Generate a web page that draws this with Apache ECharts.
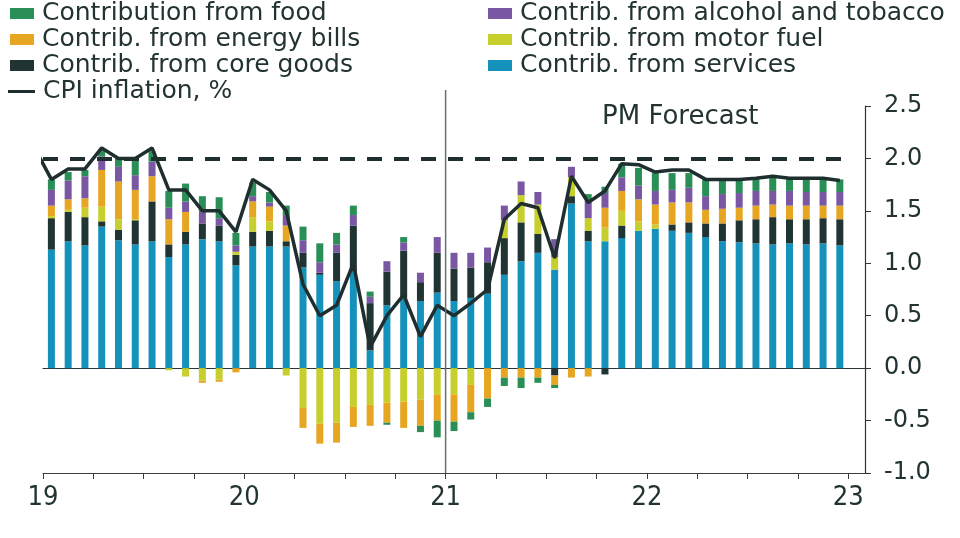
<!DOCTYPE html>
<html>
<head>
<meta charset="utf-8">
<script src="https://cdn.jsdelivr.net/npm/echarts@6/dist/echarts.min.js"></script>
<style>html,body{margin:0;padding:0;background:#fff}#c{width:960px;height:538px}</style>
</head>
<body>
<div id="c"></div>
<script>
// Months Jan 2019 .. Dec 2022 (48); one spare empty slot at the end of the axis
const months = [];
for (let y = 2019; y <= 2022; y++) for (let m = 1; m <= 12; m++) months.push(y + '-' + (m < 10 ? '0' + m : m));

const services = [
  1.13, 1.21, 1.17, 1.35, 1.22, 1.18, 1.21, 1.06, 1.18, 1.23, 1.21, 0.98,
  1.16, 1.16, 1.16, 0.96, 0.89, 0.83, 0.92, 0.17, 0.60, 0.67, 0.64, 0.72,
  0.64, 0.67, 0.71, 0.89, 1.02, 1.10, 0.94, 1.57, 1.21, 1.21, 1.24, 1.31,
  1.33, 1.31, 1.29, 1.25, 1.21, 1.20, 1.19, 1.18, 1.19, 1.18, 1.19, 1.17
];
const coreGoods = [
  0.30, 0.28, 0.27, 0.05, 0.10, 0.23, 0.38, 0.12, 0.12, 0.15, 0.15, 0.10,
  0.14, 0.15, 0.05, 0.14, 0.02, 0.27, 0.44, 0.45, 0.32, 0.45, 0.18, 0.38,
  0.31, 0.29, 0.30, 0.35, 0.37, 0.18, -0.07, 0.07, 0.10, -0.06, 0.12, 0.00,
  0.00, 0.06, 0.10, 0.13, 0.17, 0.21, 0.23, 0.26, 0.23, 0.24, 0.24, 0.25
];
const motorFuel = [
  0.02, 0.02, 0.09, 0.14, 0.10, 0.01, 0.00, -0.02, -0.08, -0.12, -0.11, 0.03,
  0.14, 0.09, -0.07, -0.38, -0.53, -0.52, -0.37, -0.35, -0.33, -0.32, -0.30, -0.25,
  -0.25, -0.16, 0.00, 0.17, 0.26, 0.28, 0.12, 0.18, 0.12, 0.13, 0.14, 0.09,
  0.04, 0.00, 0.00, 0.00, 0.00, 0.00, 0.00, 0.00, 0.00, 0.00, 0.00, 0.00
];
const energyBills = [
  0.10, 0.10, 0.09, 0.35, 0.36, 0.28, 0.24, 0.24, 0.19, -0.02, -0.02, -0.04,
  0.15, 0.14, 0.15, -0.19, -0.19, -0.19, -0.19, -0.20, -0.19, -0.25, -0.25, -0.25,
  -0.26, -0.26, -0.29, -0.09, -0.09, -0.09, -0.09, -0.09, -0.08, 0.19, 0.19, 0.21,
  0.19, 0.21, 0.19, 0.13, 0.14, 0.12, 0.13, 0.12, 0.13, 0.13, 0.12, 0.13
];
const alcoholTobacco = [
  0.15, 0.18, 0.21, 0.13, 0.14, 0.14, 0.14, 0.11, 0.10, 0.11, 0.07, 0.06,
  0.05, 0.04, 0.10, 0.12, 0.10, 0.08, 0.10, 0.06, 0.10, 0.08, 0.09, 0.15,
  0.15, 0.14, 0.14, 0.14, 0.13, 0.12, 0.17, 0.10, 0.17, 0.14, 0.13, 0.13,
  0.13, 0.12, 0.14, 0.13, 0.14, 0.14, 0.14, 0.13, 0.14, 0.13, 0.13, 0.13
];
const food = [
  0.10, 0.08, 0.06, 0.06, 0.08, 0.14, 0.10, 0.16, 0.17, 0.15, 0.20, 0.12,
  0.13, 0.10, 0.09, 0.13, 0.18, 0.11, 0.09, 0.05, -0.02, 0.05, -0.06, -0.16,
  -0.09, -0.07, -0.08, -0.08, -0.10, -0.05, -0.03, 0.00, 0.06, 0.06, 0.13, 0.17,
  0.17, 0.16, 0.14, 0.16, 0.13, 0.12, 0.12, 0.13, 0.12, 0.13, 0.12, 0.12
];
// CPI inflation, Dec 2018 (lead-in point) then Jan 2019 .. Dec 2022
const cpiDec2018 = 2.1;
const cpi = [
  1.8, 1.9, 1.9, 2.1, 2.0, 2.0, 2.1, 1.7, 1.7, 1.5, 1.5, 1.3,
  1.8, 1.7, 1.5, 0.8, 0.5, 0.6, 1.0, 0.2, 0.5, 0.7, 0.3, 0.6,
  0.5, 0.62, 0.75, 1.42, 1.57, 1.53, 1.05, 1.83, 1.58, 1.69, 1.95, 1.94,
  1.87, 1.89, 1.89, 1.80, 1.80, 1.80, 1.81, 1.83, 1.81, 1.81, 1.81, 1.79
];
const target = 2.0;
const yearLabels = ['19', '20', '21', '22', '23'];

const TXT = '#233333';
const FONT = 'DejaVu Sans';
const colors = {
  services: '#1592bb', core: '#203434', fuel: '#c6cf2c',
  energy: '#e6a622', alcohol: '#7957a2', food: '#2a8f57', cpi: '#1f2e2e'
};

const cats = months.concat(['']);
const nSlots = cats.length;

function bar(name, data, color) {
  return { name, type: 'bar', stack: 'c', data, barWidth: 7, itemStyle: { color },
           xAxisIndex: 0, yAxisIndex: 0, emphasis: { disabled: true } };
}

const cpiLine = [[-0.5, cpiDec2018]].concat(cpi.map((v, i) => [i + 0.5, v]));

const legendBase = {
  padding: 0, icon: 'rect', itemWidth: 24, itemHeight: 11, selectedMode: false,
  textStyle: { fontSize: 25, color: TXT, fontFamily: FONT, padding: [0, 0, 0, 3] }
};
function lg(name, left, top, extra) { return Object.assign({}, legendBase, { data: [name], left, top }, extra || {}); }

const chart = echarts.init(document.getElementById('c'), null, { renderer: 'canvas' });
chart.setOption({
  animation: false,
  title: { text: 'PM Forecast', left: 597, top: 99,
           textStyle: { fontSize: 26, fontWeight: 'normal', color: TXT, fontFamily: FONT } },
  legend: [
    lg('Contribution from food', 10, 1),
    lg('Contrib. from energy bills', 10, 27),
    lg('Contrib. from core goods', 10, 53),
    lg('CPI inflation, %', 8, 79, { itemWidth: 27, itemHeight: 3 }),
    lg('Contrib. from alcohol and tobacco', 488, 1),
    lg('Contrib. from motor fuel', 488, 27),
    lg('Contrib. from services', 488, 53)
  ],
  grid: { left: 43, right: 95, top: 106, bottom: 65, containLabel: false },
  xAxis: [
    { type: 'category', data: cats, boundaryGap: true, position: 'bottom',
      axisLine: { show: true, onZero: true, lineStyle: { color: '#2b3535', width: 1 } },
      axisTick: { show: false }, axisLabel: { show: false }, splitLine: { show: false } },
    { type: 'value', min: 0, max: nSlots, position: 'bottom',
      axisLine: { show: true, onZero: false, lineStyle: { color: '#3a3f3f', width: 1 } },
      axisTick: { show: true, length: 6, customValues: months.map((m, i) => i).filter(i => i % 3 === 0).concat([48]),
                  lineStyle: { color: '#3a3f3f' } },
      axisLabel: { customValues: yearLabels.map((s, i) => i * 12), formatter: v => yearLabels[v / 12],
                   fontSize: 27, color: TXT, fontFamily: "'DejaVu Sans Condensed', 'Liberation Sans', sans-serif", margin: 11 },
      splitLine: { show: false } }
  ],
  yAxis: [{
    type: 'value', position: 'right', min: -1, max: 2.5, interval: 0.5,
    axisLine: { show: true, onZero: false, lineStyle: { color: '#2b3535', width: 1.2 } },
    axisTick: { show: true, length: 6, lineStyle: { color: '#2b3535' } },
    axisLabel: { formatter: v => v.toFixed(1), fontSize: 24, color: TXT, fontFamily: FONT, margin: 19 },
    splitLine: { show: false }
  }],
  series: [
    bar('Contrib. from services', services, colors.services),
    bar('Contrib. from core goods', coreGoods, colors.core),
    bar('Contrib. from motor fuel', motorFuel, colors.fuel),
    bar('Contrib. from energy bills', energyBills, colors.energy),
    bar('Contrib. from alcohol and tobacco', alcoholTobacco, colors.alcohol),
    bar('Contribution from food', food, colors.food),
    { name: 'CPI inflation, %', type: 'line', xAxisIndex: 1, yAxisIndex: 0, data: cpiLine,
      symbol: 'none', clip: true, color: colors.cpi,
      lineStyle: { color: colors.cpi, width: 3.5 }, emphasis: { disabled: true }, z: 5,
      markLine: { silent: true, symbol: 'none', label: { show: false },
        lineStyle: { color: colors.cpi, width: 4, type: [15, 12], cap: 'butt' },
        data: [[{ coord: [0, target] }, { coord: [47.7, target] }]] } }
  ]
});

// vertical separator between actuals and forecast at the start of 2021
const xSep = chart.convertToPixel({ xAxisIndex: 1 }, 24);
const yBot = chart.convertToPixel({ yAxisIndex: 0 }, -1);
const yTop = chart.convertToPixel({ yAxisIndex: 0 }, 2.5) - 16;
chart.setOption({
  graphic: [{ type: 'line', shape: { x1: xSep, y1: yTop, x2: xSep, y2: yBot },
              style: { stroke: '#6b6f70', lineWidth: 1.5 }, z: 10, silent: true }]
});
</script>
</body>
</html>
